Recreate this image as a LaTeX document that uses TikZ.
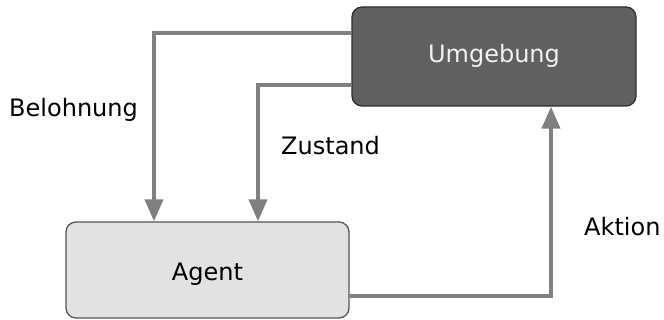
\documentclass[tikz,border=0pt]{standalone}
\usepackage{fontspec}
\setmainfont{DejaVu Sans}
\usetikzlibrary{arrows.meta}
\definecolor{envfill}{HTML}{606060}
\definecolor{envdraw}{HTML}{2E2E2E}
\definecolor{envtext}{HTML}{F2F2F2}
\definecolor{agfill}{HTML}{E2E2E2}
\definecolor{agdraw}{HTML}{555555}
\definecolor{arrowgray}{HTML}{808080}
\begin{document}
\begin{tikzpicture}[x=1pt,y=-1pt,
  boxstyle/.style={rounded corners=10pt, line width=1.3pt, inner sep=0pt,
    font=\fontsize{24}{28}\selectfont},
  flow/.style={draw=arrowgray, line width=4pt, -{Triangle[length=22pt,width=18pt]}},
  lbl/.style={font=\fontsize{24}{28}\selectfont, text=black, inner sep=0pt, anchor=base west}
]
\useasboundingbox (0,0) rectangle (664,320);
\node[boxstyle, draw=envdraw, fill=envfill, minimum width=284pt, minimum height=99pt,
  text height=18pt, text depth=5pt, text=envtext] (env) at (494,56.5) {Umgebung};
\node[boxstyle, draw=agdraw, fill=agfill, minimum width=283pt, minimum height=96pt,
  text height=21pt, text depth=0pt, text=black] (agent) at (207.5,270) {Agent};
\coordinate (b1) at (154,33);
\coordinate (z1) at (258,85);
\coordinate (a1) at (551,296);
\draw[flow] (env.west |- b1) -- (b1) -- (b1 |- agent.north);
\draw[flow] (env.west |- z1) -- (z1) -- (z1 |- agent.north);
\draw[flow] (agent.east |- a1) -- (a1) -- (a1 |- env.south);
\node[lbl] (belohnung) at (9,117) {Belohnung};
\node[lbl] (zustand) at (281,155) {Zustand};
\node[lbl] (aktion) at (584,236) {Aktion};
\end{tikzpicture}
\end{document}
